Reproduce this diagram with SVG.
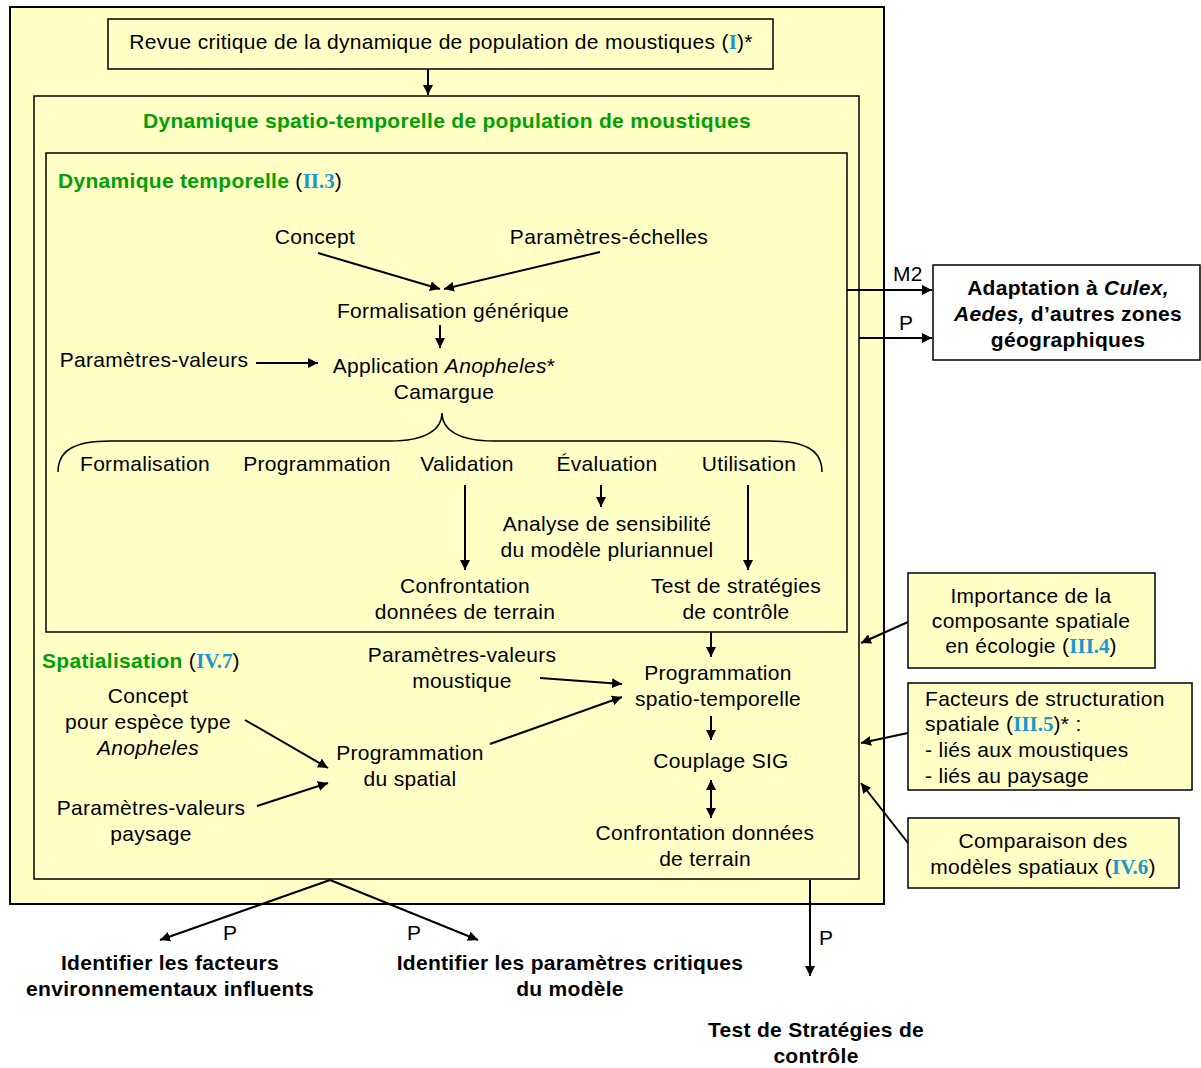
<svg xmlns="http://www.w3.org/2000/svg" width="1201" height="1068" viewBox="0 0 1201 1068">
<defs>
<marker id="ah" viewBox="0 0 10 10" refX="10" refY="5" markerWidth="10" markerHeight="10" markerUnits="userSpaceOnUse" orient="auto-start-reverse">
<path d="M0,0 L10,5 L0,10 z" fill="#000"/>
</marker>
<style>
.box{fill:#ffffc6;stroke:#000;stroke-width:1.5}
.t{font-family:"Liberation Sans",Arial,sans-serif;font-size:21px;letter-spacing:0.3px;fill:#000}
.c{text-anchor:middle}
.b{font-weight:bold}
.g{fill:#00a000;font-weight:bold}
.ref{font-family:"Liberation Serif","Times New Roman",serif;font-weight:bold;fill:#1a96d0;letter-spacing:0}
.ln{stroke:#000;stroke-width:2;fill:none}
.a{marker-end:url(#ah)}
</style>
</defs>
<rect width="1201" height="1068" fill="#fff"/>

<g id="outer"><rect class="box" x="10" y="7" width="874" height="897" style="stroke-width:2"/></g>

<g id="revue">
<rect class="box" x="108" y="19" width="665" height="50"/>
<text class="t c" x="441" y="49">Revue critique de la dynamique de population de moustiques (<tspan class="ref">I</tspan>)*</text>
</g>

<g id="spatio">
<rect class="box" x="34" y="96" width="825" height="783"/>
<text class="t c g" x="447" y="128">Dynamique spatio-temporelle de population de moustiques</text>
</g>

<g id="temporelle">
<rect class="box" x="46" y="153" width="801" height="479"/>
<text class="t" x="58" y="188"><tspan class="g">Dynamique temporelle</tspan> (<tspan class="ref">II.3</tspan>)</text>
</g>

<g id="concept"><text class="t c" x="315" y="244">Concept</text></g>
<g id="param-echelles"><text class="t c" x="609" y="244">Paramètres-échelles</text></g>
<g id="formalisation-generique"><text class="t c" x="453" y="318">Formalisation générique</text></g>
<g id="param-valeurs"><text class="t c" x="154" y="367">Paramètres-valeurs</text></g>
<g id="application"><text class="t c" x="444" y="373">Application <tspan font-style="italic">Anopheles</tspan>*</text><text class="t c" x="444" y="399">Camargue</text></g>

<g id="etapes">
<path class="ln" d="M58,472 C58,450 75,441 110,441 L390,441 C425,441 442,430 442,413 C442,430 459,441 494,441 L770,441 C805,441 822,450 822,472" style="stroke-width:1.5"/>
<text class="t c" x="145" y="471">Formalisation</text>
<text class="t c" x="317" y="471">Programmation</text>
<text class="t c" x="467" y="471">Validation</text>
<text class="t c" x="607" y="471">Évaluation</text>
<text class="t c" x="749" y="471">Utilisation</text>
</g>

<g id="analyse"><text class="t c" x="607" y="531">Analyse de sensibilité</text><text class="t c" x="607" y="557">du modèle pluriannuel</text></g>
<g id="confrontation1"><text class="t c" x="465" y="593">Confrontation</text><text class="t c" x="465" y="619">données de terrain</text></g>
<g id="test1"><text class="t c" x="736" y="593">Test de stratégies</text><text class="t c" x="736" y="619">de contrôle</text></g>

<g id="spatialisation"><text class="t" x="42" y="668"><tspan class="g">Spatialisation</tspan> (<tspan class="ref">IV.7</tspan>)</text></g>
<g id="pv-moustique"><text class="t c" x="462" y="662">Paramètres-valeurs</text><text class="t c" x="462" y="688">moustique</text></g>
<g id="prog-st"><text class="t c" x="718" y="680">Programmation</text><text class="t c" x="718" y="706">spatio-temporelle</text></g>
<g id="couplage"><text class="t c" x="721" y="768">Couplage SIG</text></g>
<g id="confrontation2"><text class="t c" x="705" y="840">Confrontation données</text><text class="t c" x="705" y="866">de terrain</text></g>
<g id="concept2"><text class="t c" x="148" y="703">Concept</text><text class="t c" x="148" y="729">pour espèce type</text><text class="t c" x="148" y="755" font-style="italic">Anopheles</text></g>
<g id="pv-paysage"><text class="t c" x="151" y="815">Paramètres-valeurs</text><text class="t c" x="151" y="841">paysage</text></g>
<g id="prog-spatial"><text class="t c" x="410" y="760">Programmation</text><text class="t c" x="410" y="786">du spatial</text></g>

<g id="adaptation">
<rect x="933" y="265" width="267" height="95" fill="#fff" stroke="#000" stroke-width="1.5"/>
<text class="t c b" x="1068" y="295">Adaptation à <tspan font-style="italic">Culex,</tspan></text>
<text class="t c b" x="1068" y="321"><tspan font-style="italic">Aedes,</tspan> d’autres zones</text>
<text class="t c b" x="1068" y="347">géographiques</text>
</g>

<g id="importance">
<rect class="box" x="908" y="573" width="247" height="95"/>
<text class="t c" x="1031" y="603">Importance de la</text>
<text class="t c" x="1031" y="628">composante  spatiale</text>
<text class="t c" x="1031" y="653">en écologie (<tspan class="ref">III.4</tspan>)</text>
</g>

<g id="facteurs">
<rect class="box" x="908" y="683" width="284" height="107"/>
<text class="t" x="925" y="706">Facteurs de structuration</text>
<text class="t" x="925" y="731">spatiale (<tspan class="ref">III.5</tspan>)* :</text>
<text class="t" x="925" y="757">- liés aux moustiques</text>
<text class="t" x="925" y="783">- liés au paysage</text>
</g>

<g id="comparaison">
<rect class="box" x="908" y="818" width="271" height="70"/>
<text class="t c" x="1043" y="848">Comparaison des</text>
<text class="t c" x="1043" y="874">modèles spatiaux (<tspan class="ref">IV.6</tspan>)</text>
</g>

<g id="identifier1"><text class="t c b" x="170" y="970">Identifier les facteurs</text><text class="t c b" x="170" y="996">environnementaux influents</text></g>
<g id="identifier2"><text class="t c b" x="570" y="970">Identifier les paramètres critiques</text><text class="t c b" x="570" y="996">du modèle</text></g>
<g id="test2"><text class="t c b" x="816" y="1037">Test de Stratégies de</text><text class="t c b" x="816" y="1063">contrôle</text></g>

<g id="connectors">
<line class="ln a" x1="428" y1="69" x2="428" y2="95"/>
<line class="ln a" x1="318" y1="253" x2="440" y2="289"/>
<line class="ln a" x1="600" y1="252" x2="444" y2="289"/>
<line class="ln a" x1="440" y1="325" x2="440" y2="348"/>
<line class="ln a" x1="256" y1="363" x2="318" y2="363"/>
<line class="ln a" x1="465" y1="485" x2="465" y2="570"/>
<line class="ln a" x1="601" y1="485" x2="601" y2="507"/>
<line class="ln a" x1="748" y1="485" x2="748" y2="570"/>
<line class="ln a" x1="711" y1="632" x2="711" y2="657"/>
<line class="ln a" x1="540" y1="678" x2="622" y2="684"/>
<line class="ln a" x1="711" y1="716" x2="711" y2="740"/>
<line class="ln a" x1="711" y1="780" x2="711" y2="818" style="marker-start:url(#ah)"/>
<line class="ln a" x1="245" y1="720" x2="328" y2="768"/>
<line class="ln a" x1="257" y1="806" x2="328" y2="783"/>
<line class="ln a" x1="490" y1="744" x2="622" y2="697"/>
<line class="ln a" x1="847" y1="290" x2="932" y2="290"/>
<text class="t" x="893" y="281">M2</text>
<line class="ln a" x1="859" y1="338" x2="932" y2="338"/>
<text class="t" x="899" y="330">P</text>
<line class="ln a" x1="908" y1="622" x2="861" y2="643"/>
<line class="ln a" x1="908" y1="733" x2="861" y2="743"/>
<line class="ln a" x1="908" y1="843" x2="861" y2="783"/>
<line class="ln a" x1="330" y1="880" x2="160" y2="940"/>
<line class="ln a" x1="330" y1="880" x2="478" y2="940"/>
<line class="ln a" x1="810" y1="880" x2="810" y2="976"/>
<text class="t" x="223" y="940">P</text>
<text class="t" x="407" y="940">P</text>
<text class="t" x="819" y="945">P</text>
</g>
</svg>
